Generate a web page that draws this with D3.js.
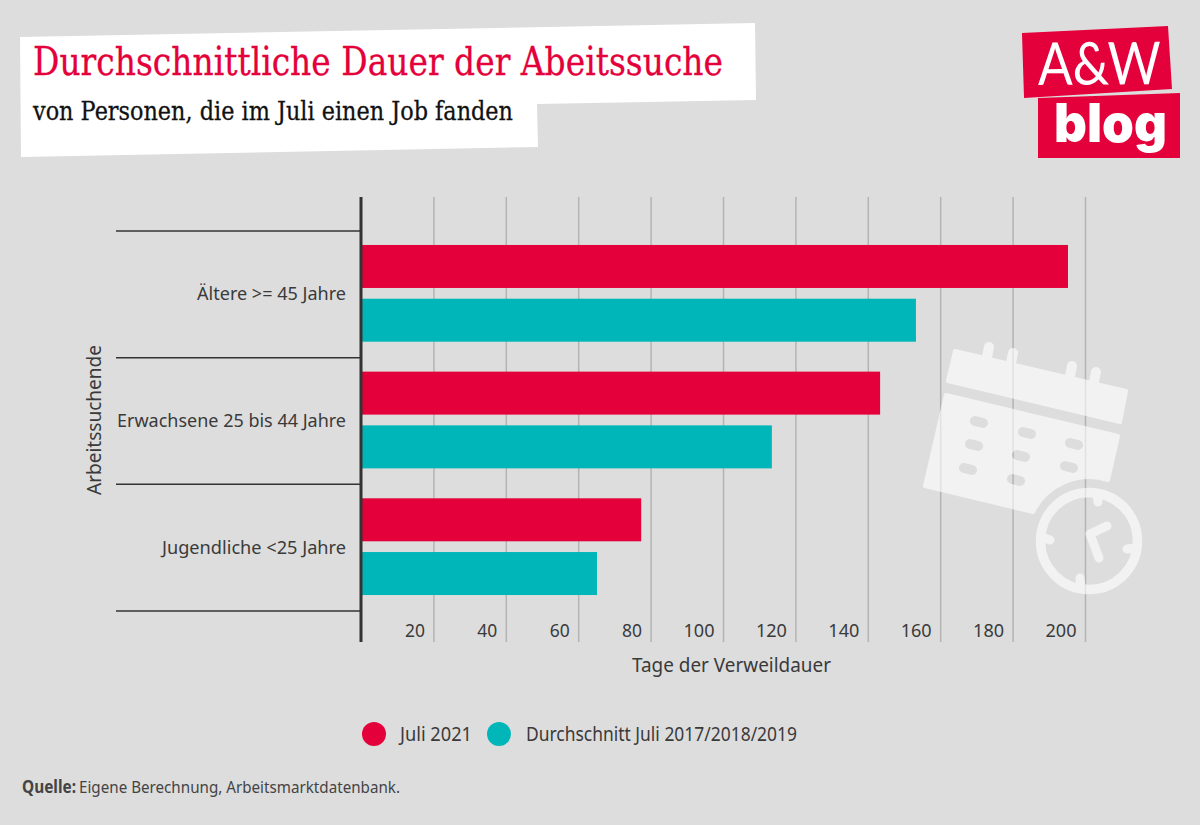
<!DOCTYPE html>
<html><head><meta charset="utf-8">
<script src="https://cdnjs.cloudflare.com/ajax/libs/d3/7.8.5/d3.min.js"></script>
<style>html,body{margin:0;padding:0;background:#dddddd}svg{display:block}</style>
</head><body><svg id="c" width="1200" height="825"></svg>
<script>
const categories = ["Ältere >= 45 Jahre","Erwachsene 25 bis 44 Jahre","Jugendliche <25 Jahre"];
const seriesNames = ["Juli 2021","Durchschnitt Juli 2017/2018/2019"];
const juli2021 = [195.3,143.4,77.4];
const durchschnitt = [153.3,113.5,65.2];
const xTicks = [20,40,60,80,100,120,140,160,180,200];
const colors = ["#e4003a","#00b6b8"];
const titleText = "Durchschnittliche Dauer der Abeitssuche";
const subtitleText = "von Personen, die im Juli einen Job fanden";
const xLabel = "Tage der Verweildauer";
const yLabel = "Arbeitssuchende";

const svg = d3.select("#c");
const F = "'Noto Sans',sans-serif", S = "'DejaVu Serif',serif", TXT = "#3a3a3a";
function fit(sel,w){return sel.attr("textLength",w).attr("lengthAdjust","spacingAndGlyphs");}

// header panel
svg.append("polygon").attr("fill","#fff")
  .attr("points","20,37 755,23 756,100 537,104 538,147 21,157");
fit(svg.append("text").attr("x",33).attr("y",75).attr("font-family",S).attr("font-size",38.5).attr("fill","#e4003a").attr("stroke","#e4003a").attr("stroke-width",0.3).text(titleText),690);
fit(svg.append("text").attr("x",33).attr("y",120).attr("font-family",S).attr("font-size",26.5).attr("fill","#111").attr("stroke","#111").attr("stroke-width",0.3).text(subtitleText),480);

// logo
svg.append("polygon").attr("fill","#e4003a").attr("points","1022,33 1168,26 1172,89 1024,98");
svg.append("polygon").attr("fill","#e4003a").attr("points","1038,98 1180,93 1180,158 1038,158");
fit(svg.append("text").attr("transform","translate(1038,85) rotate(-0.5)").attr("font-family","Lato,sans-serif").attr("font-size",59).attr("fill","#fff").text("A&W"),123);
fit(svg.append("text").attr("x",1054).attr("y",142).attr("font-family","Inter,sans-serif").attr("font-weight",900).attr("font-size",53).attr("fill","#fff").text("blog"),113);

// scales
const x = d3.scaleLinear().domain([0,200]).range([361,1085]);
const y = d3.scaleBand().domain(categories).range([231,611]);
const inner = d3.scaleBand().domain(seriesNames).range([0,y.bandwidth()-2]).paddingInner(0.2).paddingOuter(0.26);

// vertical grid + ticks
const gridTop=197,gridBottom=642;
const grid = svg.append("g").attr("transform",`translate(0,${gridBottom})`)
  .call(d3.axisBottom(x).tickValues(xTicks).tickSize(-(gridBottom-gridTop)).tickFormat(""));
grid.select(".domain").remove();
grid.selectAll("line").attr("stroke","#b4b4b4").attr("stroke-width",1.5);
grid.selectAll("text").remove();

// bars
const series=[juli2021,durchschnitt];
series.forEach((vals,si)=>{
  svg.append("g").selectAll("rect").data(vals).join("rect")
    .attr("x",x(0)).attr("width",d=>x(d)-x(0))
    .attr("y",(d,i)=>y(categories[i])+inner(seriesNames[si]))
    .attr("height",inner.bandwidth()).attr("fill",colors[si]);
});

// category separators and axis
const seps=[...categories.map(c=>y(c)),y.range()[1]];
svg.append("g").selectAll("line").data(seps).join("line")
  .attr("x1",116).attr("x2",361).attr("y1",d=>d).attr("y2",d=>d)
  .attr("stroke","#333").attr("stroke-width",1.5);
svg.append("line").attr("x1",x(0)).attr("x2",x(0)).attr("y1",gridTop).attr("y2",gridBottom).attr("stroke","#333").attr("stroke-width",3);

// labels
const L={"Ältere >= 45 Jahre":149,"Erwachsene 25 bis 44 Jahre":229,"Jugendliche <25 Jahre":184};
svg.append("g").selectAll("text").data(categories).join("text")
  .attr("x",346).attr("y",d=>y(d)+y.bandwidth()/2+6).attr("text-anchor","end")
  .attr("font-family",F).attr("font-size",18).attr("fill",TXT)
  .attr("textLength",d=>L[d]).attr("lengthAdjust","spacingAndGlyphs").text(d=>d);
svg.append("g").selectAll("text").data(xTicks).join("text")
  .attr("x",d=>x(d)-8.5).attr("y",637).attr("text-anchor","end")
  .attr("font-family",F).attr("font-size",18.5).attr("fill",TXT)
  .attr("textLength",d=>d<100?20:31).attr("lengthAdjust","spacingAndGlyphs").text(d=>d);
fit(svg.append("text").attr("x",632).attr("y",672).attr("font-family",F).attr("font-size",19).attr("fill",TXT).text(xLabel),199);
fit(svg.append("text").attr("transform","translate(101,495) rotate(-90)").attr("font-family",F).attr("font-size",19).attr("fill",TXT).text(yLabel),150);

// legend
const lx=[374,499], tx=[400,526], tw=[72,271];
seriesNames.forEach((n,i)=>{
  svg.append("circle").attr("cx",lx[i]).attr("cy",734).attr("r",12).attr("fill",colors[i]);
  fit(svg.append("text").attr("x",tx[i]).attr("y",741).attr("font-family",F).attr("font-size",19).attr("fill",TXT).text(n),tw[i]);
});
// source
fit(svg.append("text").attr("x",22).attr("y",793).attr("font-family",F).attr("font-size",17).attr("font-weight",700).attr("fill","#444").text("Quelle:"),54);
fit(svg.append("text").attr("x",79).attr("y",793).attr("font-family",F).attr("font-size",17).attr("fill","#444").text("Eigene Berechnung, Arbeitsmarktdatenbank."),321);

// calendar / clock watermark
const defs=svg.append("defs");
const m=defs.append("mask").attr("id","ic").attr("maskUnits","userSpaceOnUse").attr("x",0).attr("y",0).attr("width",1200).attr("height",825);
m.append("path").attr("fill","#fff").attr("stroke","#fff").attr("stroke-width",4).attr("stroke-linejoin","round")
  .attr("d","M955,351 L1126,391 L1120,422 L948,381 Z M946,395 L1118,436 L1108,480 A63,63 0 0 0 1033,512 L925,486 Z");
[[989,347,986,362],[1013,353,1010,368],[1072,366,1069,381],[1096,372,1093,387]].forEach(s=>
  m.append("line").attr("x1",s[0]).attr("y1",s[1]).attr("x2",s[2]).attr("y2",s[3]).attr("stroke","#fff").attr("stroke-width",10).attr("stroke-linecap","round"));
[[979,422],[1027,433],[1074,444],[974,445],[1021,456],[1069,467],[968,469],[1016,480]].forEach(p=>
  m.append("line").attr("x1",p[0]-4).attr("y1",p[1]-1).attr("x2",p[0]+4).attr("y2",p[1]+1).attr("stroke","#000").attr("stroke-width",10).attr("stroke-linecap","round"));
m.append("circle").attr("cx",1089).attr("cy",541).attr("r",48.5).attr("fill","none").attr("stroke","#fff").attr("stroke-width",9.5);
[[1097,494,1098,502],[1042,537,1050,540],[1136,548,1127,549],[1081,588,1080,578]].forEach(s=>
  m.append("line").attr("x1",s[0]).attr("y1",s[1]).attr("x2",s[2]).attr("y2",s[3]).attr("stroke","#fff").attr("stroke-width",9).attr("stroke-linecap","round"));
m.append("path").attr("fill","none").attr("stroke","#fff").attr("stroke-width",9).attr("stroke-linecap","round").attr("stroke-linejoin","round")
  .attr("d","M1107,526 L1090,534 L1099,558");
svg.append("rect").attr("width",1200).attr("height",825).attr("fill","#fff").attr("opacity",0.62).attr("mask","url(#ic)");
</script></body></html>
